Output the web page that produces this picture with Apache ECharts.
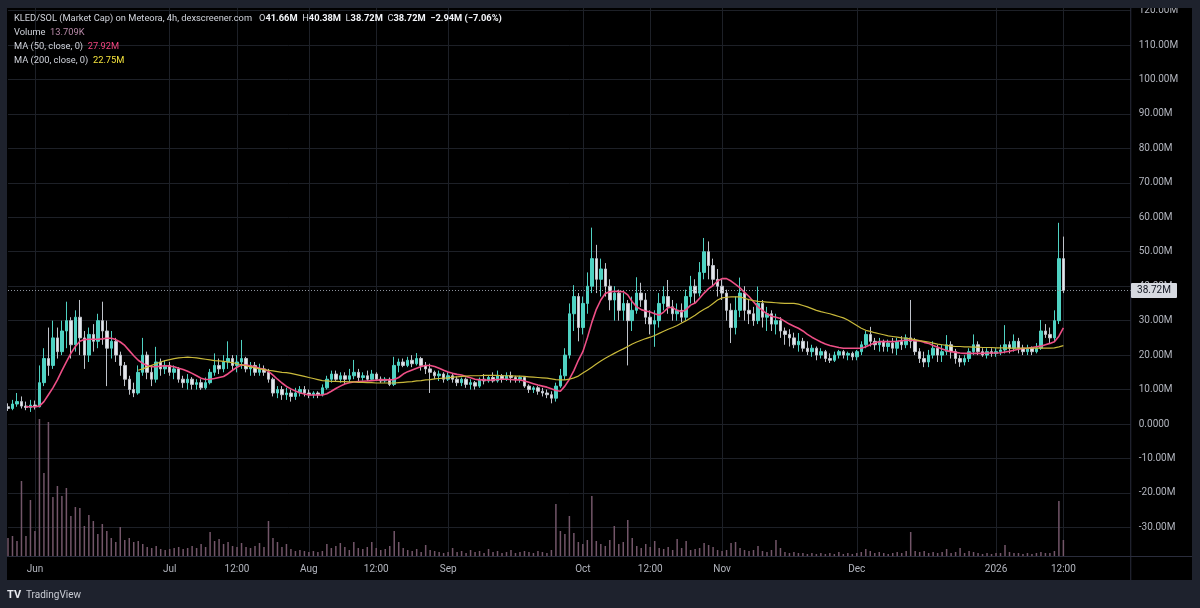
<!DOCTYPE html>
<html>
<head>
<meta charset="utf-8">
<script src="https://cdn.jsdelivr.net/npm/echarts@6/dist/echarts.min.js"></script>
<style>
html,body{margin:0;padding:0;background:#1e222d;}
#c{width:1200px;height:608px;}
</style>
</head>
<body>
<div id="c"></div>
<script>
// ---------- data (values in millions, one candle per day) ----------
const START_DATE = '2025-05-26';
const N_SLOTS = 251; // days on the time scale (data + empty right margin)

const TIME_TICKS = [
  ['2025-06-01','Jun'],['2025-07-01','Jul'],['2025-07-16','12:00'],
  ['2025-08-01','Aug'],['2025-08-16','12:00'],['2025-09-01','Sep'],
  ['2025-10-01','Oct'],['2025-10-16','12:00'],['2025-11-01','Nov'],
  ['2025-12-01','Dec'],['2026-01-01','2026'],['2026-01-16','12:00']
];
const PRICE_MIN = -30, PRICE_MAX = 120, PRICE_STEP = 10;

// [open, close, low, high]
const CANDLES = [
[5.0,4.5,3.8,6.0],[4.5,5.8,4.0,7.0],[5.8,6.5,5.0,9.0],[6.5,5.2,4.5,8.0],[5.2,4.8,4.0,6.5],[4.8,5.5,3.5,7.0],[5.5,5.0,4.2,6.8],[5.0,12.0,4.8,17.0],[12,19,11,22],[19,17,14,28],
[17,25,16,30],[25,21,19,28],[21,27,20,30],[27,30,22,35.5],[30,23,19,31],[23,31,21,33],[31,25,20,36],[25,20,16,27],[20,26,18,28],[26,24,21,29],
[24,30,22,32],[30,27,23,35.5],[27,22,11,30],[22,24,19,27],[24,20,18,25],[20,17,14,21],[17,13,11,18],[13,10,8.5,14],[10,9,7.8,12],[9,15,8.5,17],
[15,20,14,25],[20,15,13,21],[15,13,11,17],[13,18,12,22.4],[18,16,14,19],[16,17,14.5,18.5],[17,15,14,18],[15,16,13,17],[16,13,12,16.5],[13,12,10.5,14],
[12,13,10,14.5],[13,11.5,10,13.6],[11.5,12,10,13],[12,10.5,9.9,13],[10.5,12,10,13.5],[12,15,11.5,16],[15,17,14,20.5],[17,16,14.5,19],[16,18,15,20],[18,19,16,24],
[19,17,15.5,20],[17,18,15,20],[18,19,16,24.4],[19,16,15,19.5],[16,17,14,18],[17,15,14,18],[15,16,14,17.5],[16,15,14,17],[15,13,12,16],[13,9,8,13.5],
[9,10,7.5,11],[10,8.5,7,11],[8.5,9,7,10.5],[9,8,6.5,10],[8,9,7,10.5],[9,10,8,11],[10,9,8,11],[9,8.5,7.5,10],[8.5,9,7.5,9.5],[9,8.5,7.5,9.5],
[8.5,10.5,8,11.5],[10.5,13,10,14],[13,14.5,12,15.5],[14.5,13,12.5,15.5],[13,14,12,15],[14,13,11.5,15],[13,14,12,16],[14,15,13,18.6],[15,13.5,12.5,16],[13.5,14,12.6,15],
[14,13,12.5,15.5],[13,14.5,12.6,15.7],[14.5,13,12.5,15],[13,12.5,11.9,13.8],[12.5,13,12,13.6],[13,11.5,11,13.5],[11.5,17,11,19.5],[17,18,15,19],[18,17,16.5,19],[17,18.5,16.5,19.5],
[18.5,17.5,16.5,20],[17.5,19,17,20.6],[19,17,15.5,19.5],[17,16,14.5,18],[16,15,9,17.5],[15,14,13,15.5],[14,14.5,12.5,15.5],[14.5,13,12,15],[13,14,12.5,15],[14,13,12,14.5],
[13,12,11,13.8],[12,13,11,13.5],[13,11.5,10.5,13.5],[11.5,12,10,13],[12,11,10,12.5],[11,13,10.5,13.5],[13,12.5,11.5,14.5],[12.5,13.5,12,14],[13.5,12.5,12,15],[12.5,14,12,15.5],
[14,13,12,14.5],[13,14,12.5,15],[14,13.5,12,15.2],[13.5,13,12,14],[13,13.5,12,14],[13.5,11,10.5,13.8],[11,10,9,11.5],[10,10.5,9,11],[10.5,9.5,8.5,11],[9.5,9,8,10.5],
[9,8.5,7.5,10],[8.5,7.5,6,9.5],[7.5,11,6.5,12],[11,14,10.5,16],[14,20,12.8,22],[20,32,19,35],[32,37,27,40.3],[37,28,24,38],[28,35,26,37],[35,40,32,44],
[40,48,38,57],[48,42,38,52],[42,45,37,48],[45,40,37,46.7],[40,36,33,42],[36,38,30,40],[38,33,30,39],[33,35,30,38],[35,30,17,36],[30,33,27,37],
[33,38,32,42.6],[38,36,34,41],[36,31,29,38],[31,29,26,33],[29,30,22.4,33],[30,35,28,38],[35,37,33,40],[37,34,32,41.8],[34,32,30,36],[32,33,30,35],
[33,31,29.5,35],[31,37,30,39],[37,40,35,43],[40,38,35,42],[38,44,37,47],[44,50,42,54],[50,46,42,53],[46,42,40,48],[42,40,37,45],[40,38,36,42],
[38,33,30,39],[33,28,23.5,35],[28,33,26,37],[33,38,31,42.5],[38,33,30,40],[33,32,29,36],[32,30,28.5,34],[30,35,29,39.9],[35,31,28,36],[31,32,27,34],
[32,29,27,33],[29,30,26,32],[30,27,25,31],[27,26,23,28],[26,25,22.5,27.5],[25,23,22,26.5],[23,24,21,26.4],[24,22,21,25],[22,21,20,24],[21,22,19.5,23],
[22,20,18.5,22.5],[20,21,19,22],[21,19,18,21.5],[19,18.5,17.7,20.5],[18.5,20,18,21],[20,21,19,21.5],[21,20,19,21.5],[20,20.5,18.5,21],[20.5,19.5,18.5,21],[19.5,21,18.5,21.5],
[21,23,20,24],[23,26,22,27],[26,24,22.5,28.2],[24,23,21.5,25],[23,24,21,25],[24,22.5,21,24.5],[22.5,23.5,21,24.5],[23.5,22,20.5,25],[22,24,20,25],[24,23,21.5,25.5],
[23,25,22,26],[25,24,22,36],[24,21,20,25],[21,19,17.7,22],[19,18,16.5,21],[18,20,16.5,21.5],[20,22,19,24],[22,20,18,23],[20,21,18,23],[21,23,20,25.8],
[23,21,19,24],[21,19,17.5,21.8],[19,18,16.6,20],[18,19,17,20],[19,21,18,22],[21,23,20,26],[23,21,20,24],[21,20,19.5,22],[20,21,19,22],[21,20.5,19.5,22],
[20.5,21,19.5,22],[21,21.5,20,23],[21.5,23,20.5,28.7],[23,22,20.5,24],[22,24,21,26],[24,22,20.5,25],[22,21,20,23],[21,22,20,23],[22,21,20,22.5],[21,22,20.5,23.5],
[22,27,21.5,30.2],[27,26,25,29],[26,25,23.5,28],[25,30,24,33],[30,48,29,58.4],[48,38.72,38,54.4]
];

const MA50 = [
null,null,null,null,5.0,5.0,5.0,5.2,6.5,8.5,
10.5,12.8,15.5,18.0,20.5,22.5,24.0,24.5,24.6,24.6,
24.6,24.7,24.9,24.9,24.5,23.8,22.8,21.3,19.8,18.5,
17.6,17.0,16.6,16.6,16.8,16.9,16.8,16.6,16.2,15.8,
15.3,14.7,14.0,13.3,12.9,13.0,13.2,13.5,13.8,14.6,
15.6,16.5,17.1,17.1,16.9,16.6,16.2,15.9,15.3,14.2,
13.0,11.9,10.9,10.2,9.6,9.1,8.7,8.4,8.4,8.4,
8.4,8.8,9.5,10.3,11.0,11.6,12.0,12.2,12.3,12.4,
12.5,12.6,12.7,12.8,12.8,12.8,12.9,13.5,14.5,15.2,
15.7,16.2,16.7,17.0,17.0,16.7,16.2,15.6,15.1,14.7,
14.4,14.2,13.8,13.4,13.0,12.8,12.8,12.7,12.8,12.9,
13.0,13.0,12.9,12.8,12.8,12.5,12.1,11.7,11.3,11.0,
10.7,10.2,9.7,9.5,11.0,13.0,15.5,18.5,21.0,25.0,
29.5,33.3,36.0,37.9,38.4,38.5,38.5,38.4,37.5,35.5,
34.0,33.2,32.8,32.5,32.0,31.6,32.5,33.8,33.8,33.0,
32.6,33.2,34.5,35.1,36.5,38.0,39.3,40.2,41.5,42.2,
42.2,41.5,40.5,39.5,38.2,37.0,35.5,34.0,33.0,32.0,
31.3,31.0,30.6,29.8,29.0,28.4,27.8,27.0,26.0,25.2,
24.5,23.8,23.2,22.8,22.5,22.2,22.0,22.0,22.0,22.0,
22.0,22.4,23.0,23.6,23.9,23.9,23.9,23.9,24.0,24.2,
24.3,24.4,24.2,24.1,23.7,23.4,22.8,22.3,21.8,21.3,
21.0,20.8,20.6,20.5,20.5,20.5,20.5,20.5,20.6,20.6,
20.6,20.7,20.9,21.1,21.4,21.7,21.9,22.0,22.2,22.4,
22.6,23.0,23.4,23.9,25.5,27.92
];

const MA200 = [
null,null,null,null,null,null,null,null,null,null,
null,null,null,null,null,null,null,null,null,null,
null,null,null,null,null,null,null,null,null,15.6,
16.0,16.5,17.0,17.5,18.0,18.4,18.7,19.0,19.2,19.3,
19.4,19.3,19.2,19.0,18.8,18.6,18.4,18.3,18.2,18.0,
17.8,17.5,17.2,16.9,16.6,16.3,16.0,15.8,15.6,15.4,
15.2,15.0,14.9,14.7,14.4,14.1,13.8,13.5,13.2,12.9,
12.6,12.5,12.4,12.4,12.3,12.3,12.2,12.2,12.1,12.1,
12.0,12.0,11.9,11.9,11.9,11.9,11.9,12.0,12.1,12.2,
12.3,12.5,12.6,12.8,12.9,13.1,13.2,13.3,13.4,13.6,
13.7,13.8,13.9,14.0,14.0,14.0,14.1,14.1,14.1,14.1,
14.0,14.0,14.0,13.9,13.9,13.8,13.7,13.6,13.5,13.4,
13.3,13.1,12.9,12.8,12.8,13.0,13.4,13.9,14.8,15.6,
16.5,17.4,18.3,19.1,19.8,20.5,21.2,21.8,22.5,23.2,
23.8,24.3,24.8,25.2,25.7,26.3,26.9,27.5,28.0,28.6,
29.3,30.0,30.8,31.6,32.5,33.3,34.0,35.0,36.0,36.6,
36.8,36.9,36.9,36.9,36.5,36.1,35.8,35.6,35.5,35.4,
35.3,35.2,35.1,35.0,35.0,35.0,34.8,34.4,34.0,33.5,
33.0,32.6,32.3,32.0,31.6,31.2,30.8,30.2,29.4,28.6,
27.8,27.2,26.9,26.5,26.2,25.9,25.6,25.4,25.2,25.0,
24.9,24.7,24.5,24.2,24.0,23.8,23.5,23.2,23.0,22.8,
22.6,22.5,22.5,22.4,22.4,22.3,22.3,22.2,22.2,22.2,
22.1,22.1,22.1,22.0,22.0,22.0,22.0,22.0,22.0,22.0,
22.0,22.0,22.0,22.1,22.4,22.75
];

// volume (K, relative bar heights)
const VOLUME = [
18,20,15,75,20,56,25,137,83,134,
59,70,60,68,40,49,48,30,41,35,
22,32,25,18,14,29,16,18,14,15,
12,9,8,10,7,6,7,8,9,7,
8,10,8,12,9,24,15,17,12,14,
10,9,13,9,8,10,13,9,35,18,
14,9,12,7,5,6,5,4,5,4,
5,12,8,10,13,9,6,14,8,7,
9,14,8,6,7,10,25,14,8,6,
5,7,4,11,6,5,4,3,4,8,
4,5,3,6,4,5,3,7,4,5,
3,4,6,3,4,5,4,3,5,4,
3,6,52,25,22,40,23,14,12,16,
60,15,12,10,16,30,12,14,36,18,
10,8,12,9,15,8,7,9,6,17,
8,15,6,7,8,13,11,9,6,5,
6,13,14,8,6,5,6,10,5,4,
6,16,8,4,3,4,3,3,2,3,
2,3,2,3,2,4,2,3,2,3,
4,7,5,3,4,3,2,3,4,3,
5,24,5,4,5,3,4,3,4,7,
3,4,8,3,5,4,3,2,3,2,
3,3,11,4,3,3,2,3,2,3,
4,3,3,5,55,16
];

// ---------- build ----------
const DAYS = [];
(function(){
  const p = START_DATE.split('-').map(Number);
  for (let i = 0; i < N_SLOTS; i++) {
    DAYS.push(new Date(Date.UTC(p[0], p[1]-1, p[2]+i)).toISOString().slice(0,10));
  }
})();
const tickMap = {};
TIME_TICKS.forEach(t => { tickMap[t[0]] = t[1]; });
const isTick = (idx, val) => Object.prototype.hasOwnProperty.call(tickMap, val);
const LAST = CANDLES[CANDLES.length-1][1];

const FONT = 'Roboto, "Noto Sans", sans-serif';
const GRID_LINE = '#1d2027';
const AXIS_TXT = '#b2b5be';
const UP = '#4fd2c3', DOWN = '#e4e7ec', DOWN_WICK = '#bfc3ca';
const FRAME = '#1e222d';
const SEP = '#2a2d3c';

const chart = echarts.init(document.getElementById('c'), null, {renderer:'canvas'});

const headerTxt = (id, y, text, rich) => ({
  id:id, type:'text', x:14, y:y, z:110,
  style:{text:text, fill:'#d1d4dc', font:'9.3px ' + FONT, verticalAlign:'middle', align:'left', rich:rich}
});

chart.setOption({
  animation:false,
  backgroundColor:'#000000',
  grid:[
    {left:8, right:69.25, top:10.6, bottom:80.65},
    {left:8, right:69.25, top:8, bottom:52}
  ],
  xAxis:[
    {type:'category', gridIndex:0, data:DAYS, boundaryGap:false, show:false},
    {type:'category', gridIndex:1, data:DAYS, boundaryGap:false,
     axisLine:{show:false}, axisTick:{show:false},
     axisLabel:{show:false},
     splitLine:{show:true, interval:isTick, lineStyle:{color:GRID_LINE, width:1}}}
  ],
  yAxis:[
    {type:'value', gridIndex:0, position:'right', min:PRICE_MIN, max:PRICE_MAX, interval:PRICE_STEP,
     axisLine:{show:false}, axisTick:{show:false},
     splitLine:{lineStyle:{color:GRID_LINE, width:1}},
     axisLabel:{color:AXIS_TXT, fontSize:10, fontFamily:FONT, margin:8,
       formatter:(v)=> v === 0 ? '0.0000' : v.toFixed(2) + 'M'}},
    {type:'value', gridIndex:1, min:0, max:548, show:false}
  ],
  series:[
    {type:'bar', name:'Volume', xAxisIndex:1, yAxisIndex:1, data:VOLUME, barWidth:1.5, z:1,
     itemStyle:{color:'#735669'}},
    {type:'candlestick', name:'KLED/SOL', xAxisIndex:0, yAxisIndex:0, data:CANDLES, barWidth:3, z:2,
     itemStyle:{color:UP, color0:DOWN, borderColor:UP, borderColor0:DOWN_WICK, borderWidth:1},
     markLine:{silent:true, symbol:['none','none'], animation:false,
       data:[{yAxis:LAST}],
       lineStyle:{type:[1,2], color:'#8f949e', width:1},
       label:{show:false}}},
    {type:'line', name:'MA50', xAxisIndex:0, yAxisIndex:0, data:MA50, showSymbol:false, z:3,
     lineStyle:{color:'#ee4f86', width:1.6}},
    {type:'line', name:'MA200', xAxisIndex:0, yAxisIndex:0, data:MA200, showSymbol:false, z:3,
     lineStyle:{color:'#c9b93b', width:1.2}}
  ],
  graphic:[
    {id:'sepV', type:'line', z:1, shape:{x1:1130.75, y1:8, x2:1130.75, y2:580}, style:{stroke:SEP, lineWidth:1}},
    {id:'sepH', type:'line', z:1, shape:{x1:7, y1:556.5, x2:1192, y2:556.5}, style:{stroke:SEP, lineWidth:1}},
    {id:'fT', type:'rect', z:100, shape:{x:0, y:0, width:1200, height:8}, style:{fill:FRAME}},
    {id:'fB', type:'rect', z:100, shape:{x:0, y:580, width:1200, height:28}, style:{fill:FRAME}},
    {id:'fL', type:'rect', z:100, shape:{x:0, y:0, width:7, height:608}, style:{fill:FRAME}},
    {id:'fR', type:'rect', z:100, shape:{x:1192, y:0, width:8, height:608}, style:{fill:FRAME}},
    headerTxt('h1', 19, 'KLED/SOL (Market Cap) on Meteora, 4h, dexscreener.com'),
    {id:'h1b', type:'text', x:259, y:19, z:110,
     style:{text:'{l|O}{v|41.66M}  {l|H}{v|40.38M}  {l|L}{v|38.72M}  {l|C}{v|38.72M}  {v|−2.94M (−7.06%)}',
       font:'9.3px ' + FONT, verticalAlign:'middle', align:'left',
       rich:{l:{fill:'#d1d4dc', font:'9.3px ' + FONT}, v:{fill:'#f3f5f9', font:'bold 9.3px ' + FONT}}}},
    headerTxt('h2', 33, '{l|Volume}  {v|13.709K}', {l:{fill:'#d1d4dc', font:'9.3px '+FONT}, v:{fill:'#b98aa9', font:'9.3px '+FONT}}),
    headerTxt('h3', 47, '{l|MA (50, close, 0)}  {v|27.92M}', {l:{fill:'#d1d4dc', font:'9.3px '+FONT}, v:{fill:'#f2457f', font:'9.3px '+FONT}}),
    headerTxt('h4', 61, '{l|MA (200, close, 0)}  {v|22.75M}', {l:{fill:'#d1d4dc', font:'9.3px '+FONT}, v:{fill:'#f4e33c', font:'9.3px '+FONT}}),
    {id:'logo', type:'text', x:7, y:595, z:110, style:{text:'TV', fill:'#e6e8ee', font:'bold 11px ' + FONT, verticalAlign:'middle'}},
    {id:'logoT', type:'text', x:26, y:595, z:110, style:{text:'TradingView', fill:'#c9ccd4', font:'10px ' + FONT, verticalAlign:'middle'}}
  ]
});

// time-scale labels and last-price tag, placed through the library's own scales
const tagY = chart.convertToPixel({yAxisIndex:0}, LAST);
const extra = [
  {id:'tagBox', type:'rect', z:105, shape:{x:1131, y:tagY - 7.5, width:46, height:15, r:1}, style:{fill:'#d6d9e0'}},
  {id:'tagTxt', type:'text', z:106, x:1154, y:tagY, style:{text:LAST.toFixed(2) + 'M', fill:'#131722', font:'10px ' + FONT, align:'center', verticalAlign:'middle'}}
];
TIME_TICKS.forEach((t, k) => {
  const px = chart.convertToPixel({xAxisIndex:1}, t[0]);
  extra.push({id:'tl' + k, type:'text', z:106, x:px, y:569,
    style:{text:t[1], fill:AXIS_TXT, font:'10px ' + FONT, align:'center', verticalAlign:'middle'}});
});
chart.setOption({graphic:extra});
</script>
</body>
</html>
